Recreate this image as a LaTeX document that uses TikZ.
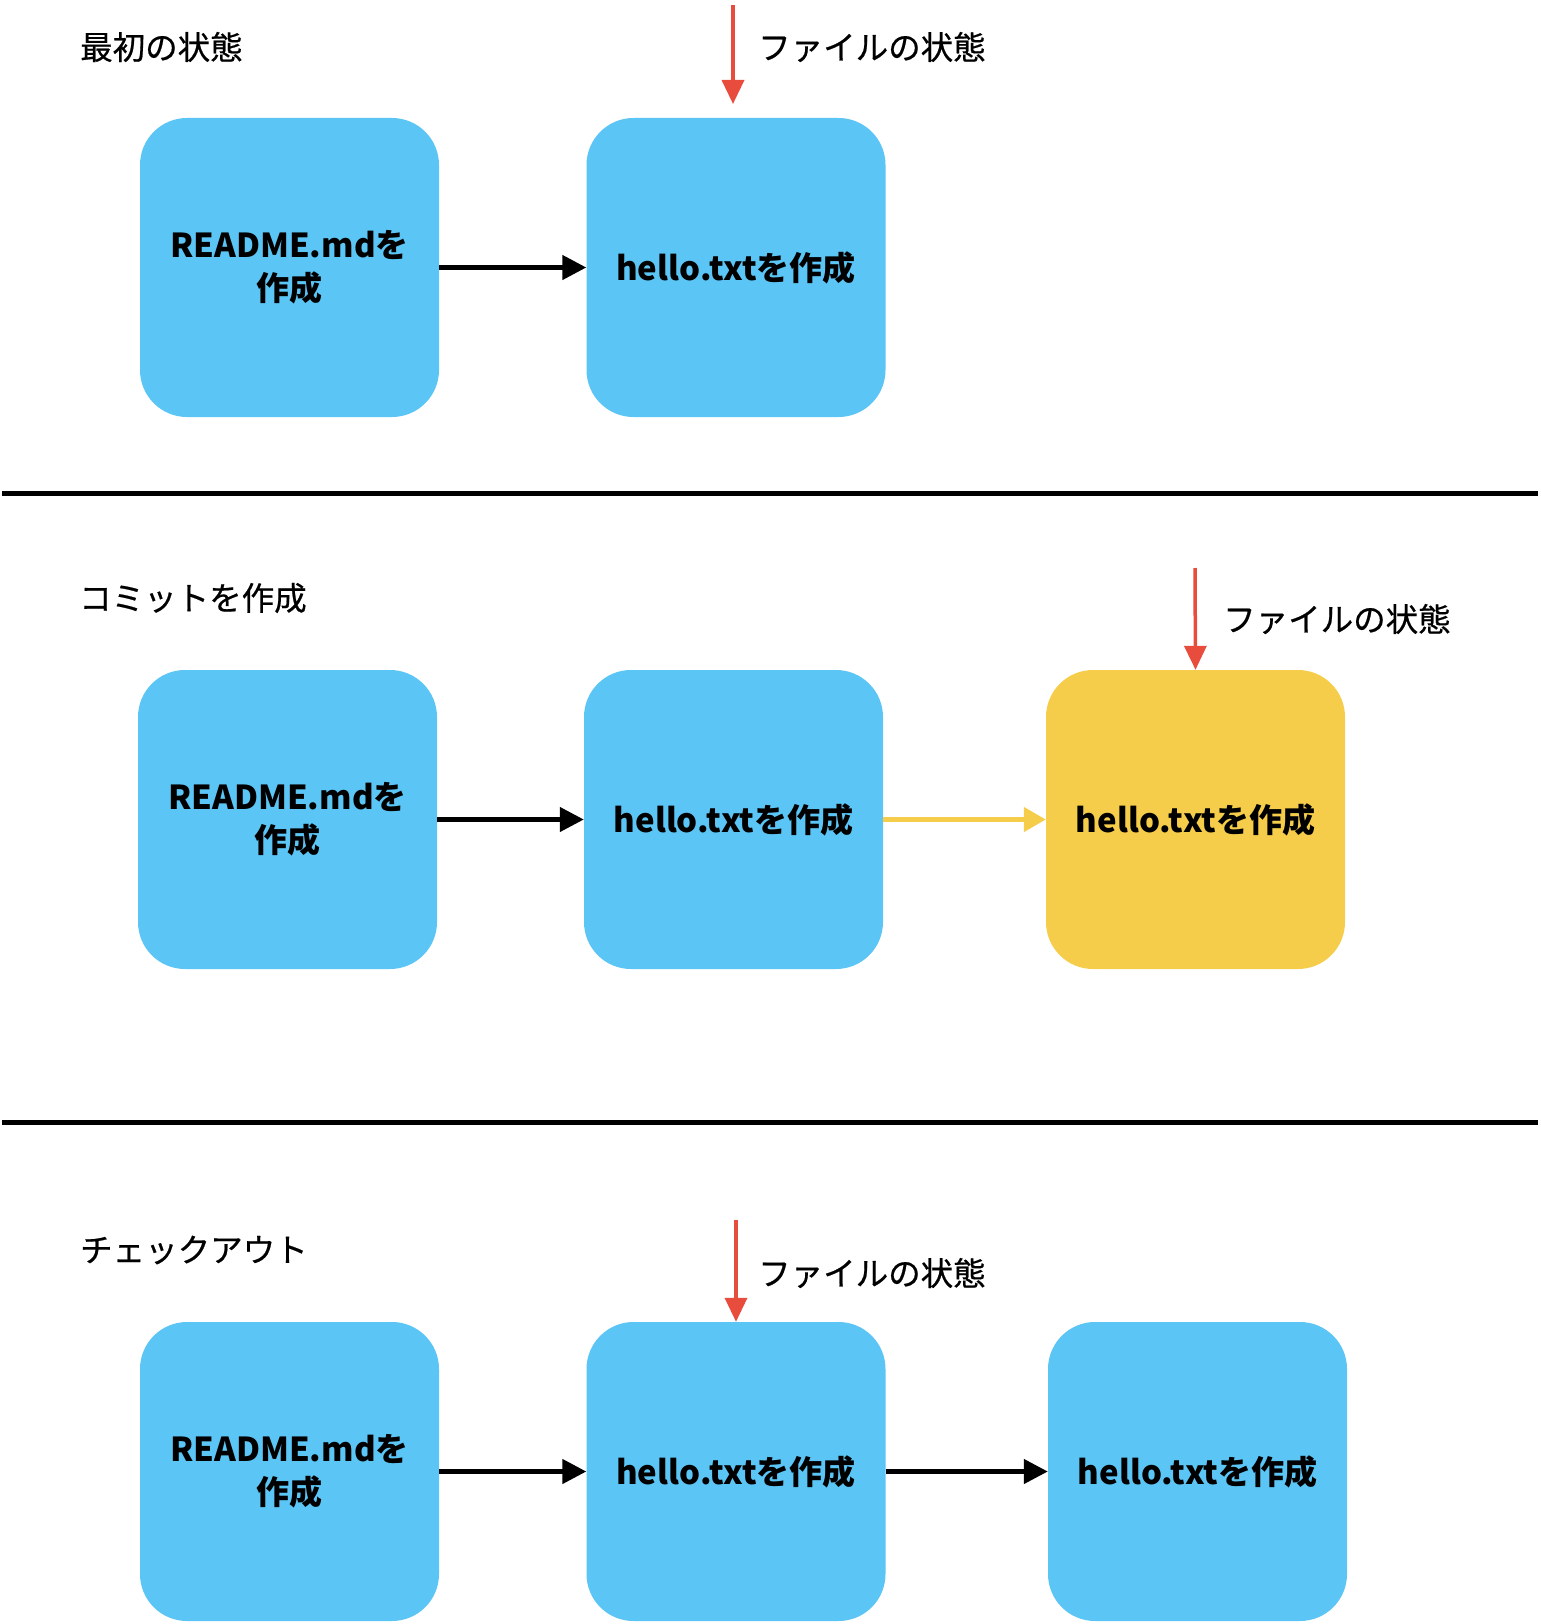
\documentclass[tikz,border=0pt]{standalone}
\usepackage{fontspec}
\setmainfont{Noto Sans CJK JP}
\newfontfamily\lblfont{Noto Sans CJK JP}[FakeBold=0.6]
\usetikzlibrary{arrows.meta}
\definecolor{boxblue}{HTML}{5BC5F5}
\definecolor{boxyellow}{HTML}{F6CD4A}
\definecolor{arrred}{HTML}{E74C3C}
\begin{document}
\begin{tikzpicture}[x=1pt,y=-1pt,
  box/.style={minimum width=299pt,minimum height=299pt,rounded corners=47pt,fill=boxblue,draw=none,
    align=center,font=\fontsize{33}{43}\selectfont\bfseries,inner sep=0pt},
  ybox/.style={box,fill=boxyellow},
  lbl/.style={anchor=west,font=\lblfont\fontsize{32.5}{36}\selectfont,inner sep=0pt},
  conn/.style={line width=4.5pt,-{Triangle[length=24pt,width=24pt]}},
  yconn/.style={draw=boxyellow,line width=4.5pt,-{Triangle[length=22pt,width=24pt,fill=boxyellow]}},
  redarr/.style={draw=arrred,line width=3.5pt,-{Triangle[length=24pt,width=22pt,fill=arrred]}},
  sep/.style={line width=5pt}
]
\useasboundingbox (0,0) rectangle (1540,1624);
% section 1
\node[lbl] (t1) at (80,47) {最初の状態};
\node[box] (a1) at (289.5,267.5) {README.mdを\\作成};
\node[box] (a2) at (736,267.5) {hello.txtを作成};
\draw[conn] (a1.east) -- (a2.west);
\coordinate (r1s) at (733,5);
\coordinate (r1e) at (733,104);
\draw[redarr] (r1s) -- (r1e);
\node[lbl] (f1) at (758,47) {ファイルの状態};
% separator 1
\coordinate (s1a) at (2,493);
\coordinate (s1b) at (1538,493);
\draw[sep] (s1a) -- (s1b);
% section 2
\node[lbl] (t2) at (79,598) {コミットを作成};
\node[box] (b1) at (287.5,819.5) {README.mdを\\作成};
\node[box] (b2) at (733.5,819.5) {hello.txtを作成};
\node[ybox] (b3) at (1195.5,819.5) {hello.txtを作成};
\draw[conn] (b1.east) -- (b2.west);
\draw[yconn] (b2.east) -- (b3.west);
\coordinate (r2s) at (1195,568);
\draw[redarr] (r2s) -- (b3.north);
\node[lbl] (f2) at (1223,619) {ファイルの状態};
% separator 2
\coordinate (s2a) at (2,1122);
\coordinate (s2b) at (1538,1122);
\draw[sep] (s2a) -- (s2b);
% section 3
\node[lbl] (t3) at (80,1250) {チェックアウト};
\node[box] (c1) at (289.5,1471.5) {README.mdを\\作成};
\node[box] (c2) at (736,1471.5) {hello.txtを作成};
\node[box] (c3) at (1197.5,1471.5) {hello.txtを作成};
\draw[conn] (c1.east) -- (c2.west);
\draw[conn] (c2.east) -- (c3.west);
\coordinate (r3s) at (736,1220);
\draw[redarr] (r3s) -- (c2.north);
\node[lbl] (f3) at (758,1273) {ファイルの状態};
\end{tikzpicture}
\end{document}
